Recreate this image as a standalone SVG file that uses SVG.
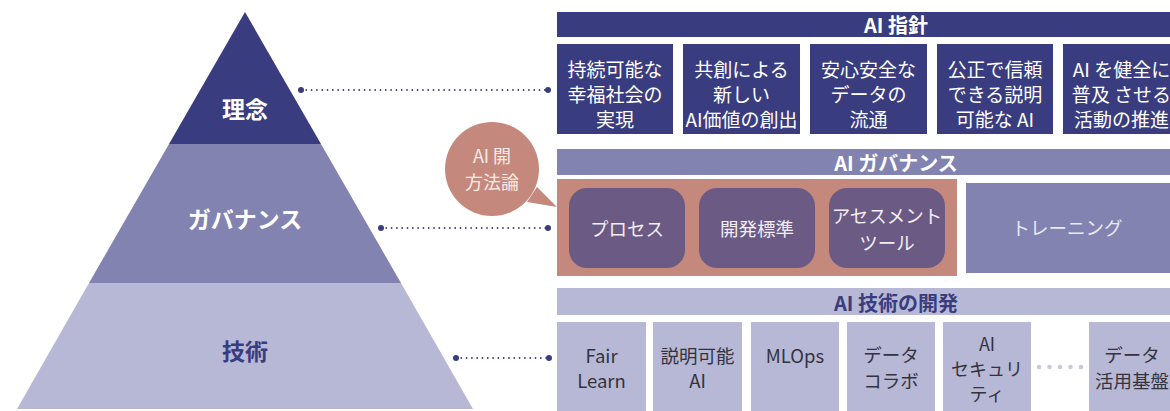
<svg xmlns="http://www.w3.org/2000/svg" width="1170" height="411" viewBox="0 0 1170 411">
<style>
text{font-family:"Noto Sans CJK JP","Noto Sans",sans-serif;text-anchor:middle;dominant-baseline:central}
.hd{font-size:20px;font-weight:bold}
.pl{font-size:23px;font-weight:bold}
.w{fill:#ffffff}
.n{fill:#3a3c80}
.b1{fill:#3a3c80}
.b2{fill:#8283b0}
.b3{fill:#b7b8d5}
.t1{font-size:19px;fill:#ffffff}
.t2{font-size:18.5px;fill:#f1eef6}
.t3{font-size:18.5px;fill:#333340}
.dot{stroke:#3a3c80;stroke-width:1.8;stroke-linecap:round;stroke-dasharray:0 5.3;fill:none}
.end{fill:#3a3c80}
</style>
<rect width="1170" height="411" fill="#ffffff"/>
<g id="pyramid-top"><polygon class="b1" points="245,12 321,144 169,144"/><text class="pl w" x="245" y="108">理念</text></g>
<g id="pyramid-mid"><polygon class="b2" points="169,144 321,144 401,283 89,283"/><text class="pl w" x="245" y="218">ガバナンス</text></g>
<g id="pyramid-base"><polygon class="b3" points="89,283 401,283 473,409 17,409"/><text class="pl n" x="245" y="350">技術</text></g>

<g id="connectors">
<line class="dot" x1="301" y1="90" x2="548" y2="90"/><circle class="end" cx="301" cy="90" r="3"/><circle class="end" cx="548" cy="90" r="3"/>
<line class="dot" x1="381" y1="228" x2="548" y2="228"/><circle class="end" cx="381" cy="228" r="3"/><circle class="end" cx="548" cy="228" r="3"/>
<line class="dot" x1="456" y1="358" x2="549" y2="358"/><circle class="end" cx="456" cy="358" r="3"/><circle class="end" cx="549" cy="358" r="3"/>
</g>

<g id="ai-guideline-header"><rect class="b1" x="557" y="12" width="680" height="25"/><text class="hd w" x="896" y="24.5">AI 指針</text></g>
<g id="g1"><rect class="b1" x="557" y="44" width="116" height="90"/><text class="t1" x="615" y="68">持続可能な</text><text class="t1" x="615" y="93">幸福社会の</text><text class="t1" x="615" y="118">実現</text></g>
<g id="g2"><rect class="b1" x="683" y="44" width="117" height="90"/><text class="t1" x="741.5" y="68">共創による</text><text class="t1" x="741.5" y="93">新しい</text><text class="t1" x="741.5" y="118">AI価値の創出</text></g>
<g id="g3"><rect class="b1" x="810" y="44" width="117" height="90"/><text class="t1" x="868.5" y="68">安心安全な</text><text class="t1" x="868.5" y="93">データの</text><text class="t1" x="868.5" y="118">流通</text></g>
<g id="g4"><rect class="b1" x="937" y="44" width="116" height="90"/><text class="t1" x="995" y="68">公正で信頼</text><text class="t1" x="995" y="93">できる説明</text><text class="t1" x="995" y="118">可能な AI</text></g>
<g id="g5"><rect class="b1" x="1063" y="44" width="117" height="90"/><text class="t1" x="1121.5" y="68">AI を健全に</text><text class="t1" x="1121.5" y="93">普及 させる</text><text class="t1" x="1121.5" y="118">活動の推進</text></g>

<g id="bubble"><path d="M 527 202 L 557 207 L 537 187 Z" fill="#c4897c"/><circle cx="492" cy="169" r="47" fill="#c4897c"/><text x="492" y="155" style="font-size:18px;fill:#f7ebe8">AI 開</text><text x="492" y="181" style="font-size:18px;fill:#f7ebe8">方法論</text></g>

<g id="gov-header"><rect class="b2" x="557" y="149" width="680" height="26"/><text class="hd w" x="896" y="162">AI ガバナンス</text></g>
<g id="methodology"><rect x="557" y="179" width="400" height="97" fill="#c4897c"/>
<rect x="569" y="188" width="116" height="80" rx="18" fill="#6b5a83"/><text class="t2" x="627" y="228">プロセス</text>
<rect x="699" y="188" width="116" height="80" rx="18" fill="#6b5a83"/><text class="t2" x="757" y="228">開発標準</text>
<rect x="829" y="188" width="116" height="80" rx="18" fill="#6b5a83"/><text class="t2" x="887" y="215">アセスメント</text><text class="t2" x="887" y="242">ツール</text></g>
<g id="training"><rect class="b2" x="966" y="183" width="210" height="90"/><text x="1067" y="227" style="font-size:18.5px;fill:#eaeaf3">トレーニング</text></g>

<g id="tech-header"><rect class="b3" x="557" y="288" width="680" height="27"/><text class="hd n" x="896" y="302">AI 技術の開発</text></g>
<g id="k1"><rect class="b3" x="557" y="322" width="89" height="89"/><text class="t3" x="601.5" y="355">Fair</text><text class="t3" x="601.5" y="380">Learn</text></g>
<g id="k2"><rect class="b3" x="653" y="322" width="89" height="89"/><text class="t3" x="697.5" y="355">説明可能</text><text class="t3" x="697.5" y="380">AI</text></g>
<g id="k3"><rect class="b3" x="751" y="322" width="88" height="89"/><text class="t3" x="795" y="355">MLOps</text></g>
<g id="k4"><rect class="b3" x="847" y="322" width="88" height="89"/><text class="t3" x="891" y="354">データ</text><text class="t3" x="891" y="380">コラボ</text></g>
<g id="k5"><rect class="b3" x="943" y="322" width="88" height="89"/><text class="t3" x="987" y="343" style="font-size:18px">AI</text><text class="t3" x="987" y="368" style="font-size:18px">セキュリ</text><text class="t3" x="987" y="393" style="font-size:18px">ティ</text></g>
<g id="ellipsis" fill="#c8c9dc"><circle cx="1039" cy="367" r="2.3"/><circle cx="1049.5" cy="367" r="2.3"/><circle cx="1060" cy="367" r="2.3"/><circle cx="1070.5" cy="367" r="2.3"/><circle cx="1081" cy="367" r="2.3"/></g>
<g id="k6"><rect class="b3" x="1089" y="322" width="95" height="89"/><text class="t3" x="1132" y="354">データ</text><text class="t3" x="1132" y="380">活用基盤</text></g>
</svg>
